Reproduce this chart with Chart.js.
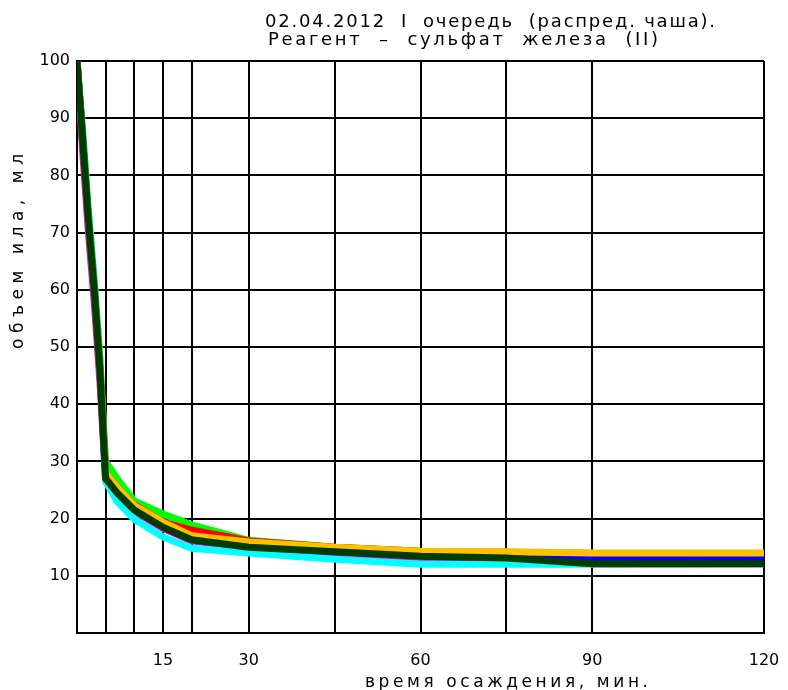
<!DOCTYPE html>
<html>
<head>
<meta charset="utf-8">
<script src="https://cdn.jsdelivr.net/npm/chart.js@4/dist/chart.umd.min.js"></script>
<style>
  html, body { margin: 0; padding: 0; background: #fff; }
  #wrap { width: 788px; height: 690px; }
</style>
</head>
<body>
<div id="wrap"><canvas id="sludgeChart" width="788" height="690"></canvas></div>
<script>
// time of settling, minutes
const times = [0, 1, 2, 3, 4, 5, 7, 10, 15, 20, 30, 45, 60, 75, 90, 120];

// sludge volume, ml
const darkGreenVals = [100, 86, 72, 60, 46, 27, 24.5, 21.5, 18.5, 16.3, 15.0, 14.2, 13.4, 13.1, 12.1, 12.1];
const orangeVals    = [100, 86, 72, 60, 46, 28, 25.5, 22.3, 19.4, 17.0, 15.9, 15.0, 14.3, 14.2, 14.0, 14.0];
const blueVals      = [100, 86, 72, 60, 46, 27.5, 25, 22, 19, 16.6, 15.3, 14.5, 13.9, 13.6, 13.1, 13.1];
const redVals       = [100, 86, 72, 60, 46, 28, 25.5, 22.4, 19.4, 18.0, 16.1, 15.0, 14.3, 14.1, 13.9, 13.9];
const greenVals     = [100, 87, 73, 61.5, 48, 30, 27, 23.1, 20.8, 18.9, 16.2, 15.0, 14.3, 14.1, 13.9, 13.9];
const cyanVals      = [100, 88, 74, 62, 48, 26.5, 23, 19.9, 16.8, 14.8, 14.0, 12.9, 12.0, 12.0, 12.0, 12.1];
const magentaVals   = [100, 84, 70, 58, 44, 26.5, 24, 21.3, 18.3, 16.1, 14.8, 14.0, 13.2, 13.0, 12.1, 12.1];

// axis ticks
const xGridTicks = [0, 5, 10, 15, 20, 30, 45, 60, 75, 90, 120];
const xLabelTicks = [15, 30, 60, 90, 120];

const titleLines = ['02.04.2012  I  очередь  (распред. чаша).', 'Реагент  –  сульфат  железа  (II)'];
const xTitle = 'время осаждения, мин.';
const yTitle = 'объем ила, мл';

function toPoints(vals) {
  return times.map((t, i) => ({ x: t, y: vals[i] }));
}

function series(vals, color) {
  return {
    data: toPoints(vals),
    borderColor: color,
    backgroundColor: color,
    borderWidth: 7,
    pointRadius: 0,
    tension: 0,
    fill: false
  };
}

// draw text stretched to a given width
function fitText(ctx, text, x, y, width) {
  ctx.letterSpacing = '0px';
  const w = ctx.measureText(text).width;
  const sp = (width - w) / Math.max(text.length - 1, 1);
  ctx.letterSpacing = sp + 'px';
  ctx.fillText(text, x, y);
  ctx.letterSpacing = '0px';
}

const textPlugin = {
  id: 'texts',
  afterDraw(chart) {
    const ctx = chart.ctx;
    ctx.save();
    ctx.fillStyle = '#000';
    ctx.textBaseline = 'middle';
    ctx.textAlign = 'left';
    ctx.font = '18px "DejaVu Sans"';
    fitText(ctx, titleLines[0], 265, 22, 450);
    fitText(ctx, titleLines[1], 268, 40, 390);
    ctx.font = '17px "DejaVu Sans"';
    fitText(ctx, xTitle, 365, 683, 283);
    ctx.translate(19, 252);
    ctx.rotate(-Math.PI / 2);
    fitText(ctx, yTitle, -97, 0, 195);
    ctx.restore();
  }
};

const ctx = document.getElementById('sludgeChart');
new Chart(ctx, {
  type: 'line',
  data: {
    datasets: [
      series(darkGreenVals, '#003c00'),
      series(orangeVals, '#ffc000'),
      series(blueVals, '#0000ff'),
      series(redVals, '#ff0000'),
      series(greenVals, '#00ff00'),
      series(cyanVals, '#00ffff'),
      series(magentaVals, '#ff00ff')
    ]
  },
  options: {
    responsive: false,
    animation: false,
    layout: { padding: { top: 61, right: 24, left: 0, bottom: 0 } },
    plugins: {
      legend: { display: false },
      tooltip: { enabled: false }
    },
    scales: {
      x: {
        type: 'linear',
        min: 0,
        max: 120,
        afterBuildTicks: (scale) => {
          scale.ticks = xGridTicks.map(v => ({ value: v }));
        },
        afterFit: (scale) => {
          scale.height = 57;
          scale.paddingLeft = 0;
          scale.paddingRight = 0;
        },
        grid: { color: '#000', lineWidth: 2, drawTicks: false },
        border: { color: '#000', width: 2 },
        ticks: {
          autoSkip: false,
          maxRotation: 0,
          padding: 18,
          color: '#000',
          font: { family: 'DejaVu Sans', size: 16 },
          callback: (value) => xLabelTicks.includes(value) ? String(value) : ''
        }
      },
      y: {
        min: 0,
        max: 100,
        afterFit: (scale) => {
          scale.width = 77;
          scale.paddingTop = 0;
          scale.paddingBottom = 0;
        },
        grid: { color: '#000', lineWidth: 2, drawTicks: false },
        border: { color: '#000', width: 2 },
        ticks: {
          stepSize: 10,
          padding: 7,
          color: '#000',
          font: { family: 'DejaVu Sans', size: 16 },
          callback: (value) => value === 0 ? '' : String(value)
        }
      }
    }
  },
  plugins: [textPlugin]
});
</script>
</body>
</html>
